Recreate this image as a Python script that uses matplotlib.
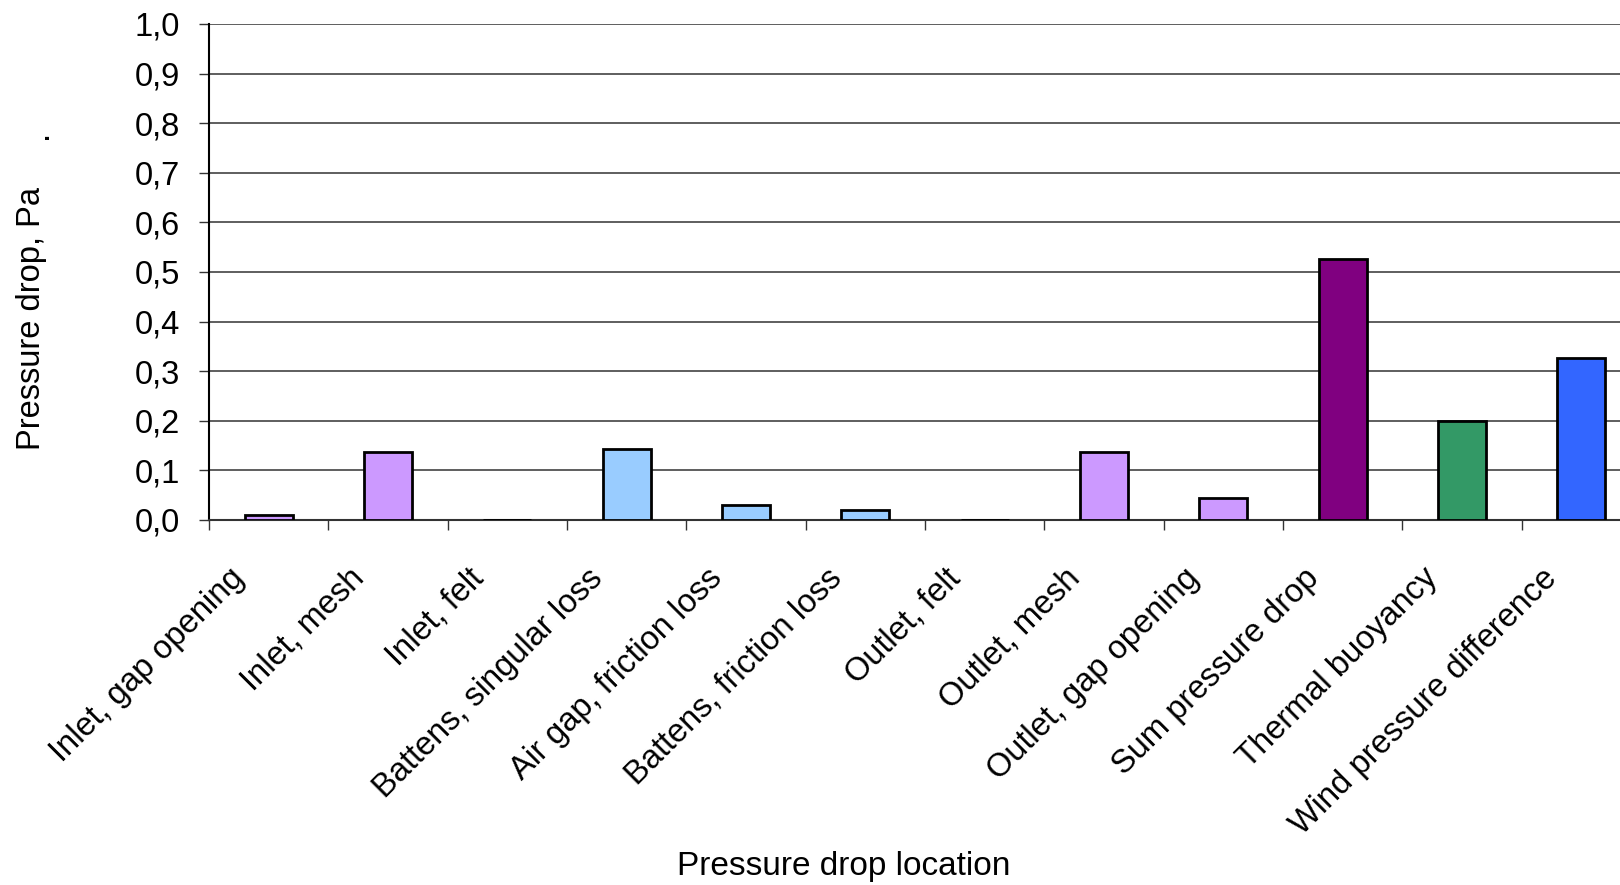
import matplotlib.pyplot as plt
from matplotlib.ticker import FuncFormatter

plt.rcParams['font.family'] = ['Liberation Sans', 'DejaVu Sans']

locations = [
    "Inlet, gap opening", "Inlet, mesh", "Inlet, felt",
    "Battens, singular loss", "Air gap, friction loss",
    "Battens, friction loss", "Outlet, felt", "Outlet, mesh",
    "Outlet, gap opening", "Sum pressure drop", "Thermal buoyancy",
    "Wind pressure difference",
]
pressure_drop = [0.010, 0.138, 0.0, 0.144, 0.031, 0.021, 0.0, 0.138,
                 0.044, 0.526, 0.200, 0.326]
bar_colors = ["#CC99FF", "#CC99FF", "#CC99FF", "#99CCFF", "#99CCFF",
              "#99CCFF", "#CC99FF", "#CC99FF", "#CC99FF", "#800080",
              "#339966", "#3366FF"]

fig = plt.figure(figsize=(16.2, 8.85), dpi=100)
# the plot area runs off the right edge of the figure
ax = fig.add_axes([209 / 1620, 1 - 520 / 885, 1432 / 1620, 496 / 885])

x = range(len(locations))
ax.bar(x, pressure_drop, width=0.4, color=bar_colors,
       edgecolor="black", linewidth=2, zorder=3)

ax.set_xlim(-0.5, len(locations) - 0.5)
ax.set_ylim(0, 1.0)
ax.set_yticks([i / 10 for i in range(11)])
ax.yaxis.set_major_formatter(FuncFormatter(lambda v, _: f"{v:.1f}".replace(".", ",")))
ax.grid(axis="y", color="#333333", linewidth=1.1, zorder=0)

ax.set_xticks([i - 0.5 for i in x])
ax.set_xticklabels([])
ax.tick_params(axis="x", direction="out", length=7, width=1, color="#333333")
ax.tick_params(axis="y", direction="out", length=7, width=1, pad=14,
               labelsize=23.5, color="#333333")

for i, name in enumerate(locations):
    ax.text(i - 0.24, -0.108, name, rotation=45, rotation_mode="anchor",
            ha="right", va="center", fontsize=23.5,
            transform=ax.transData, clip_on=False)

for side in ("top", "right"):
    ax.spines[side].set_visible(False)
ax.spines["left"].set_linewidth(1.5)
ax.spines["bottom"].set_linewidth(1.5)
ax.spines["bottom"].set_color("#333333")

fig.text(32 / 1620, 1 - 318 / 885, "Pressure drop, Pa", rotation=90,
         ha="center", va="center", fontsize=23.5)
fig.text(38 / 1620, 1 - 134 / 885, ".", rotation=90,
         ha="center", va="center", fontsize=23.5)
fig.text(844 / 1620, 1 - 866 / 885, "Pressure drop location",
         ha="center", va="center", fontsize=24)

fig.savefig("out.png", dpi=100)
